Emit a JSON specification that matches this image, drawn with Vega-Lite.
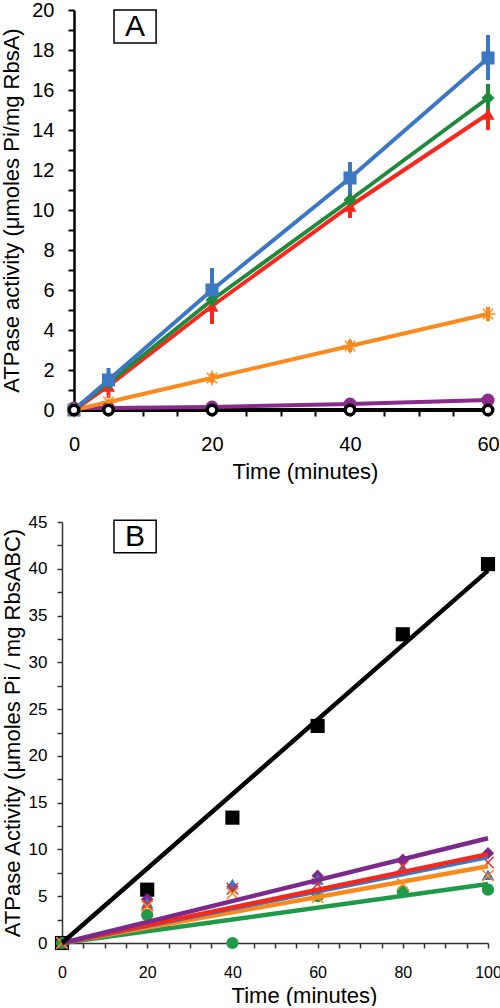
{
  "$schema": "https://vega.github.io/schema/vega-lite/v6.json",
  "padding": {"left": 0, "top": 0, "right": 5, "bottom": 0},
  "background": "white",
  "spacing": 31,
  "resolve": {"scale": {"color": "independent", "shape": "independent"}},
  "config": {
    "view": {"stroke": null},
    "font": "Liberation Sans",
    "axis": {"grid": false, "domainColor": "black", "tickColor": "black", "labelColor": "black", "titleColor": "black", "labelFont": "Liberation Sans", "titleFont": "Liberation Sans", "titleFontWeight": "normal"}
  },
  "datasets": {
    "a": [
      {"s": "black", "t": 0, "v": 0, "lo": 0, "hi": 0},
      {"s": "black", "t": 5, "v": 0, "lo": 0, "hi": 0},
      {"s": "black", "t": 20, "v": 0, "lo": 0, "hi": 0},
      {"s": "black", "t": 40, "v": 0, "lo": 0, "hi": 0},
      {"s": "black", "t": 60, "v": 0, "lo": 0, "hi": 0},
      {"s": "purple", "t": 0, "v": 0.1, "lo": 0.1, "hi": 0.1},
      {"s": "purple", "t": 5, "v": 0.1, "lo": 0.1, "hi": 0.1},
      {"s": "purple", "t": 20, "v": 0.15, "lo": 0.1, "hi": 0.2},
      {"s": "purple", "t": 40, "v": 0.3, "lo": 0.25, "hi": 0.35},
      {"s": "purple", "t": 60, "v": 0.5, "lo": 0.45, "hi": 0.55},
      {"s": "orange", "t": 0, "v": 0, "lo": 0, "hi": 0},
      {"s": "orange", "t": 5, "v": 0.4, "lo": 0.3, "hi": 0.5},
      {"s": "orange", "t": 20, "v": 1.6, "lo": 1.35, "hi": 1.85},
      {"s": "orange", "t": 40, "v": 3.2, "lo": 2.9, "hi": 3.5},
      {"s": "orange", "t": 60, "v": 4.8, "lo": 4.45, "hi": 5.15},
      {"s": "red", "t": 0, "v": 0, "lo": 0, "hi": 0},
      {"s": "red", "t": 5, "v": 1.2, "lo": 0.6, "hi": 1.8},
      {"s": "red", "t": 20, "v": 5.2, "lo": 4.3, "hi": 6.9},
      {"s": "red", "t": 40, "v": 10.2, "lo": 9.6, "hi": 10.8},
      {"s": "red", "t": 60, "v": 14.8, "lo": 14.0, "hi": 15.5},
      {"s": "green", "t": 0, "v": 0.05, "lo": 0.05, "hi": 0.3},
      {"s": "green", "t": 5, "v": 1.35, "lo": 1.0, "hi": 1.7},
      {"s": "green", "t": 20, "v": 5.5, "lo": 5.0, "hi": 6.0},
      {"s": "green", "t": 40, "v": 10.5, "lo": 10.1, "hi": 10.9},
      {"s": "green", "t": 60, "v": 15.6, "lo": 15.0, "hi": 16.3},
      {"s": "blue", "t": 0, "v": 0, "lo": 0, "hi": 0},
      {"s": "blue", "t": 5, "v": 1.5, "lo": 1.0, "hi": 2.1},
      {"s": "blue", "t": 20, "v": 6.0, "lo": 5.0, "hi": 7.1},
      {"s": "blue", "t": 40, "v": 11.6, "lo": 10.8, "hi": 12.4},
      {"s": "blue", "t": 60, "v": 17.6, "lo": 16.5, "hi": 18.75}
    ],
    "bpts": [
      {"s": "black", "t": 0, "v": 0}, {"s": "black", "t": 20, "v": 5.7}, {"s": "black", "t": 40, "v": 13.4}, {"s": "black", "t": 60, "v": 23.2}, {"s": "black", "t": 80, "v": 33.0}, {"s": "black", "t": 100, "v": 40.5},
      {"s": "purple", "t": 0, "v": 0}, {"s": "purple", "t": 20, "v": 4.7}, {"s": "purple", "t": 40, "v": 6.0}, {"s": "purple", "t": 60, "v": 7.2}, {"s": "purple", "t": 80, "v": 8.9}, {"s": "purple", "t": 100, "v": 9.6},
      {"s": "blue", "t": 0, "v": 0}, {"s": "blue", "t": 20, "v": 4.3}, {"s": "blue", "t": 40, "v": 6.3}, {"s": "blue", "t": 60, "v": 6.8}, {"s": "blue", "t": 80, "v": 8.0}, {"s": "blue", "t": 100, "v": 7.3},
      {"s": "red", "t": 0, "v": 0}, {"s": "red", "t": 20, "v": 4.1}, {"s": "red", "t": 40, "v": 5.8}, {"s": "red", "t": 60, "v": 6.3}, {"s": "red", "t": 80, "v": 8.2}, {"s": "red", "t": 100, "v": 8.6},
      {"s": "orange", "t": 0, "v": 0}, {"s": "orange", "t": 20, "v": 3.9}, {"s": "orange", "t": 40, "v": 5.3}, {"s": "orange", "t": 60, "v": 4.9}, {"s": "orange", "t": 80, "v": 6.3}, {"s": "orange", "t": 100, "v": 7.2},
      {"s": "green", "t": 0, "v": 0}, {"s": "green", "t": 20, "v": 3.0}, {"s": "green", "t": 40, "v": 0}, {"s": "green", "t": 60, "v": 5.0}, {"s": "green", "t": 80, "v": 5.5}, {"s": "green", "t": 100, "v": 5.7}
    ],
    "bfit": [
      {"s": "green", "t": 0, "v": 0}, {"s": "green", "t": 100, "v": 6.3},
      {"s": "orange", "t": 0, "v": 0}, {"s": "orange", "t": 100, "v": 8.2},
      {"s": "blue", "t": 0, "v": 0}, {"s": "blue", "t": 100, "v": 9.2},
      {"s": "red", "t": 0, "v": 0}, {"s": "red", "t": 100, "v": 9.5},
      {"s": "purple", "t": 0, "v": 0}, {"s": "purple", "t": 100, "v": 11.2},
      {"s": "black", "t": 0, "v": 0}, {"s": "black", "t": 100, "v": 39.8}
    ],
    "labA": [{"lab": "A", "x1": 5.8, "x2": 11.9, "y1": 18.35, "y2": 20.0, "xm": 8.85, "ym": 19.15}],
    "labB": [{"lab": "B", "x1": 12.2, "x2": 22.1, "y1": 41.7, "y2": 45.2, "xm": 17.15, "ym": 43.4}]
  },
  "vconcat": [
    {
      "width": 426,
      "height": 400,
      "encoding": {
        "x": {"field": "t", "type": "quantitative", "scale": {"domain": [-1.739, 60], "nice": false, "zero": false},
              "axis": {"title": "Time (minutes)", "domain": false, "values": [0,5,10,15,20,25,30,35,40,45,50,55,60], "labelExpr": "datum.value % 20 === 0 ? datum.label : ''", "labelFontSize": 20, "titleFontSize": 22, "tickWidth": 2, "tickSize": 6, "labelPadding": 18, "titlePadding": 7, "titleX": 243, "labelFlush": false}},
        "y": {"field": "v", "type": "quantitative", "scale": {"domain": [0, 20], "nice": false},
              "axis": {"title": "ATPase activity (μmoles Pi/mg RbsA)", "offset": -12, "values": [0,1,2,3,4,5,6,7,8,9,10,11,12,13,14,15,16,17,18,19,20], "labelExpr": "datum.value % 2 === 0 ? datum.label : ''", "labelFontSize": 20, "titleFontSize": 22, "domainWidth": 2.5, "tickWidth": 2, "tickSize": 6, "labelPadding": 14, "titlePadding": 8}}
      },
      "layer": [
        {
          "mark": {"type": "rule", "color": "black", "strokeWidth": 2.5},
          "encoding": {"x": {"datum": 0}, "x2": {"datum": 60}, "y": {"datum": 0}}
        },
        {
          "data": {"name": "labA"},
          "mark": {"type": "rect", "fill": "white", "stroke": "black", "strokeWidth": 1.5},
          "encoding": {"x": {"field": "x1", "type": "quantitative"}, "x2": {"field": "x2"}, "y": {"field": "y1", "type": "quantitative"}, "y2": {"field": "y2"}}
        },
        {
          "data": {"name": "labA"},
          "mark": {"type": "text", "fontSize": 30, "font": "Liberation Sans", "color": "black", "baseline": "middle", "align": "center"},
          "encoding": {"x": {"field": "xm", "type": "quantitative"}, "y": {"field": "ym", "type": "quantitative"}, "text": {"field": "lab"}}
        },
        {
          "data": {"name": "a"},
          "mark": {"type": "line", "strokeWidth": 4},
          "encoding": {
            "color": {"field": "s", "type": "nominal", "legend": null, "sort": ["black","purple","orange","red","green","blue"], "scale": {"domain": ["black","purple","orange","red","green","blue"], "range": ["#000000","#8a2a8a","#fb8a1e","#f5281e","#1f8a3b","#3b77c3"]}}
          }
        },
        {
          "data": {"name": "a"},
          "mark": {"type": "rule", "strokeWidth": 4},
          "encoding": {
            "y": {"field": "lo", "type": "quantitative"}, "y2": {"field": "hi"},
            "color": {"field": "s", "type": "nominal", "legend": null}
          }
        },
        {
          "data": {"name": "a"},
          "transform": [{"filter": "datum.s === 'blue' || datum.s === 'green' || datum.s === 'red' || datum.s === 'purple'"}],
          "mark": {"type": "point", "filled": true, "opacity": 1, "size": 170},
          "encoding": {
            "color": {"field": "s", "type": "nominal", "legend": null},
            "shape": {"field": "s", "type": "nominal", "legend": null, "scale": {"domain": ["blue","green","red","purple"], "range": ["square","diamond","triangle-up","circle"]}}
          }
        },
        {
          "data": {"name": "a"},
          "transform": [{"filter": "datum.s === 'orange'"}],
          "mark": {"type": "point", "filled": false, "opacity": 1, "size": 220, "strokeWidth": 1.5, "stroke": "#fb8a1e", "shape": "M-1,0L1,0M0,-1L0,1M-0.7,-0.7L0.7,0.7M-0.7,0.7L0.7,-0.7"}
        },
        {
          "data": {"name": "a"},
          "transform": [{"filter": "datum.s === 'black'"}],
          "mark": {"type": "point", "filled": false, "fill": "white", "fillOpacity": 1, "opacity": 1, "size": 90, "strokeWidth": 3.5, "stroke": "black", "shape": "circle"}
        }
      ]
    },
    {
      "width": 426,
      "height": 421,
      "encoding": {
        "x": {"field": "t", "type": "quantitative", "scale": {"domain": [0, 100], "nice": false},
              "axis": {"title": "Time (minutes)", "values": [0,5,10,15,20,25,30,35,40,45,50,55,60,65,70,75,80,85,90,95,100], "labelExpr": "datum.value % 20 === 0 ? datum.label : ''", "labelFontSize": 16, "titleFontSize": 22, "domainWidth": 1.5, "domainColor": "#333333", "tickColor": "#333333", "tickWidth": 1.5, "tickSize": 5, "labelPadding": 16, "titlePadding": 5, "titleX": 242, "labelFlush": false}},
        "y": {"field": "v", "type": "quantitative", "scale": {"domain": [0, 45], "nice": false},
              "axis": {"title": "ATPase Activity (μmoles Pi / mg RbsABC)", "values": [0,2.5,5,7.5,10,12.5,15,17.5,20,22.5,25,27.5,30,32.5,35,37.5,40,42.5,45], "labelExpr": "datum.value % 5 === 0 ? datum.label : ''", "labelFontSize": 17, "titleFontSize": 22, "domainWidth": 1.5, "domainColor": "#333333", "tickColor": "#333333", "tickWidth": 1.5, "tickSize": 5, "labelPadding": 10, "titlePadding": 4}}
      },
      "layer": [
        {
          "data": {"name": "labB"},
          "mark": {"type": "rect", "fill": "white", "stroke": "black", "strokeWidth": 1.5},
          "encoding": {"x": {"field": "x1", "type": "quantitative"}, "x2": {"field": "x2"}, "y": {"field": "y1", "type": "quantitative"}, "y2": {"field": "y2"}}
        },
        {
          "data": {"name": "labB"},
          "mark": {"type": "text", "fontSize": 30, "font": "Liberation Sans", "color": "black", "baseline": "middle", "align": "center"},
          "encoding": {"x": {"field": "xm", "type": "quantitative"}, "y": {"field": "ym", "type": "quantitative"}, "text": {"field": "lab"}}
        },
        {
          "data": {"name": "bpts"},
          "transform": [{"filter": "datum.s === 'black'"}],
          "mark": {"type": "point", "filled": true, "opacity": 1, "size": 200, "shape": "square", "color": "black"}
        },
        {
          "data": {"name": "bpts"},
          "transform": [{"filter": "datum.s === 'purple' || datum.s === 'blue' || datum.s === 'green'"}],
          "mark": {"type": "point", "filled": true, "opacity": 1, "size": 150},
          "encoding": {
            "color": {"field": "s", "type": "nominal", "legend": null, "scale": {"domain": ["black","purple","orange","red","green","blue"], "range": ["#000000","#7b2a8a","#fb8a1e","#f5281e","#1f9a48","#3b77c3"]}},
            "shape": {"field": "s", "type": "nominal", "legend": null, "scale": {"domain": ["purple","blue","green"], "range": ["diamond","triangle-up","circle"]}}
          }
        },
        {
          "data": {"name": "bpts"},
          "transform": [{"filter": "datum.s === 'red' || datum.s === 'orange'"}],
          "mark": {"type": "point", "filled": false, "opacity": 1, "size": 130, "strokeWidth": 1.5, "shape": "M-1,-1L1,1M-1,1L1,-1"},
          "encoding": {
            "color": {"field": "s", "type": "nominal", "legend": null}
          }
        },
        {
          "data": {"name": "bfit"},
          "mark": {"type": "line", "strokeWidth": 4.5},
          "encoding": {
            "color": {"field": "s", "type": "nominal", "legend": null},
            "detail": {"field": "s"}
          }
        }
      ]
    }
  ]
}
